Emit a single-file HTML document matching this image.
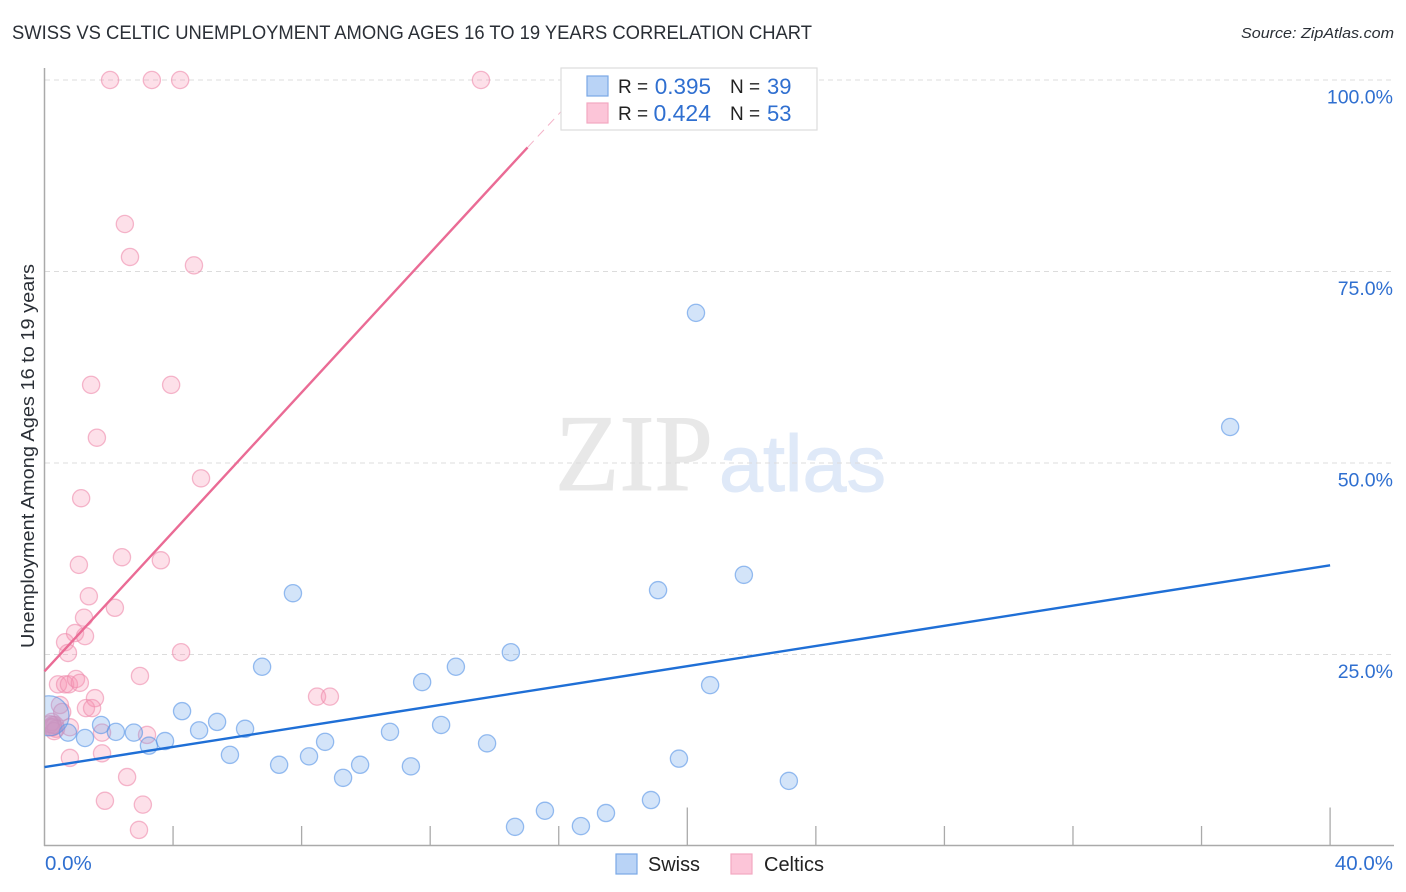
<!DOCTYPE html>
<html lang="en">
<head>
<meta charset="utf-8">
<title>Swiss vs Celtic Unemployment Correlation Chart</title>
<style>
html,body{margin:0;padding:0;background:#fff;}
svg{display:block;font-family:"Liberation Sans",sans-serif;}
</style>
</head>
<body>
<svg id="chart" xmlns="http://www.w3.org/2000/svg" width="1406" height="892" viewBox="0 0 1406 892">
  <defs>
    <clipPath id="plot-clip"><rect x="45" y="60" width="1349" height="785"></rect></clipPath>
  </defs>
  <rect width="1406" height="892" fill="#fff"></rect>
  <text x="12" y="39" font-size="19" fill="#2a2f36" textLength="800" lengthAdjust="spacingAndGlyphs">SWISS VS CELTIC UNEMPLOYMENT AMONG AGES 16 TO 19 YEARS CORRELATION CHART</text>
  <text x="1241" y="38" font-size="15" font-style="italic" fill="#2a2f36" textLength="153" lengthAdjust="spacingAndGlyphs">Source: ZipAtlas.com</text>
  <text x="555" y="490" font-family="'Liberation Serif',serif" font-size="109" fill="#e8e8e8" stroke="#e8e8e8" stroke-width="1" textLength="158" lengthAdjust="spacingAndGlyphs">ZIP</text>
  <text x="719" y="491" font-size="80" fill="#dfe9f8" stroke="#dfe9f8" stroke-width="1" textLength="167" lengthAdjust="spacingAndGlyphs">atlas</text>
  <g id="grid"></g>
  <g id="axes"></g>
  <g id="points" clip-path="url(#plot-clip)"></g>
  <g id="trends"></g>
  <g id="y-labels"></g>
  <text x="45" y="870" font-size="20.5" fill="#2f6fd0">0.0%</text>
  <text x="1393" y="870" font-size="20.5" fill="#2f6fd0" text-anchor="end">40.0%</text>
  <text transform="translate(34,648) rotate(-90)" font-size="18.5" fill="#2a2f36" textLength="384" lengthAdjust="spacingAndGlyphs">Unemployment Among Ages 16 to 19 years</text>

  <g>
    <rect x="561" y="68" width="256" height="62" fill="#fff" stroke="#dddddd" stroke-width="1.2"></rect>
    <rect x="587" y="76" width="21" height="20" fill="#b9d3f6" stroke="#7aa8e6" stroke-width="1.2"></rect>
    <rect x="587" y="103" width="21" height="20" fill="#fcc5d8" stroke="#f2a8c1" stroke-width="1.2"></rect>
    <text x="618" y="93" font-size="19" fill="#222">R =</text>
    <text x="711" y="94" font-size="22.5" fill="#2f6fd0" text-anchor="end">0.395</text>
    <text x="730" y="93" font-size="19" fill="#222">N =</text>
    <text x="767" y="94" font-size="22" fill="#2f6fd0">39</text>
    <text x="618" y="120" font-size="19" fill="#222">R =</text>
    <text x="711" y="121" font-size="23" fill="#2f6fd0" text-anchor="end">0.424</text>
    <text x="730" y="120" font-size="19" fill="#222">N =</text>
    <text x="767" y="121" font-size="22" fill="#2f6fd0">53</text>
  </g>

  <g>
    <rect x="616" y="854" width="21" height="20" fill="#b9d3f6" stroke="#7aa8e6" stroke-width="1.2"></rect>
    <text x="648" y="871" font-size="20" fill="#222" textLength="52" lengthAdjust="spacingAndGlyphs">Swiss</text>
    <rect x="731" y="854" width="21" height="20" fill="#fcc5d8" stroke="#f2a8c1" stroke-width="1.2"></rect>
    <text x="764" y="871" font-size="20" fill="#222" textLength="60" lengthAdjust="spacingAndGlyphs">Celtics</text>
  </g>
</svg>
<script>
const yTicks = [25, 50, 75, 100];
const yTickLabels = ["25.0%", "50.0%", "75.0%", "100.0%"];
const xTicks = [4, 8, 12, 16, 20, 24, 28, 32, 36, 40];
const xMajorTicks = [20, 40];

const swissX = [20.27,36.89,21.76,19.09,7.73,14.51,6.77,12.80,11.75,20.71,4.28,12.34,5.37,4.81,6.24,10.75,1.76,2.22,2.78,0.73,1.26,3.75,3.25,8.73,13.77,5.77,8.23,19.74,9.82,7.30,11.40,9.29,23.16,18.87,15.57,17.47,14.64,16.69];
const swissY = [69.6,54.7,35.4,33.4,33.0,25.3,23.4,23.4,21.4,21.0,17.6,15.8,16.2,15.1,15.3,14.9,15.8,14.9,14.8,14.8,14.1,13.7,13.1,13.6,13.4,11.9,11.7,11.4,10.6,10.6,10.4,8.9,8.5,6.0,4.6,4.3,2.5,2.6];
const swissBubbleX = [0.14];
const swissBubbleY = [17.0];

const celticsX = [2.04,3.34,4.22,13.58,2.50,2.66,4.65,1.45,3.94,1.63,4.87,1.14,2.41,3.62,1.07,1.38,2.19,1.23,0.95,1.26,0.64,0.73,4.25,2.97,0.42,0.64,0.76,0.98,1.10,1.57,8.48,8.88,0.48,1.29,1.48,0.79,1.79,3.19,1.79,0.79,2.57,1.88,3.06,2.94,0.23,0.33,0.26,0.17,0.36,0.30,0.20,0.26,0.55];
const celticsY = [100,100,100,100,81.2,76.9,75.8,60.2,60.2,53.3,48.0,45.4,37.7,37.3,36.7,32.6,31.1,29.8,27.8,27.4,26.6,25.2,25.3,22.2,21.1,21.1,21.1,21.8,21.3,19.3,19.5,19.5,18.4,18.0,18.0,15.5,14.8,14.5,12.1,11.5,9.0,5.9,5.4,2.1,16.2,15.8,15.5,15.9,15.3,15.0,15.5,15.8,17.5];

const swissTrendX = [0, 40];
const swissTrendY = [10.3, 36.65];
const celticsTrendX = [0, 15.03];
const celticsTrendY = [22.8, 91.2];
const celticsExtendX = [15.03, 16.5];
const celticsExtendY = [91.2, 97.8];

const NS = "http://www.w3.org/2000/svg";
function xs(v) { return 44.5 + v * 32.14; }
function ys(v) { return 846 - v * 7.66; }
function mk(tag, attrs, parent) {
  const el = document.createElementNS(NS, tag);
  for (const k in attrs) el.setAttribute(k, attrs[k]);
  parent.appendChild(el);
  return el;
}
const gridG = document.getElementById("grid");
const axesG = document.getElementById("axes");
const pointsG = document.getElementById("points");
const trendsG = document.getElementById("trends");
const yLabG = document.getElementById("y-labels");

yTicks.forEach(function (t, i) {
  const line = mk("line", {x1: 45, x2: 1394, y1: ys(t), y2: ys(t), stroke: "#dcdcdc", "stroke-width": 1, "stroke-dasharray": "5 4"}, gridG);
  
  
  const label = mk("text", {x: 1393, y: ys(t) + 23.5, "font-size": 19.5, fill: "#2f6fd0", "text-anchor": "end"}, yLabG);
  
  
  label.textContent = yTickLabels[i];
});

const yAxis = mk("line", {x1: 44.5, x2: 44.5, y1: 68, y2: 846, stroke: "#aaaaaa", "stroke-width": 1.5}, axesG);


const xAxis = mk("line", {x1: 44, x2: 1394, y1: 845.5, y2: 845.5, stroke: "#aaaaaa", "stroke-width": 1.5}, axesG);


xTicks.forEach(function (t) {
  const top = xMajorTicks.indexOf(t) >= 0 ? 807.5 : 826;
  const tick = mk("line", {x1: xs(t), x2: xs(t), y1: top, y2: 845.5, stroke: "#aaaaaa", "stroke-width": 1.3}, axesG);
  
  
});

function drawPoints(xv, yv, r, fill, stroke, fo, so, name) {
  xv.forEach(function (x, i) {
    const c = mk("circle", {cx: xs(x), cy: ys(yv[i]), r: r, fill: fill, "fill-opacity": fo, stroke: stroke, "stroke-opacity": so, "stroke-width": 1.3}, pointsG);
    
    
  });
}
drawPoints(celticsX, celticsY, 8.6, "#f78fb0", "#ee8aab", 0.28, 0.6, "celtics-point");
drawPoints(swissX, swissY, 8.6, "#6ea5ea", "#5b96e6", 0.3, 0.62, "swiss-point");
drawPoints(swissBubbleX, swissBubbleY, 20, "#6ea5ea", "#5b96e6", 0.3, 0.62, "swiss-large-point");

const sw = mk("line", {x1: xs(swissTrendX[0]), y1: ys(swissTrendY[0]), x2: xs(swissTrendX[1]), y2: ys(swissTrendY[1]), stroke: "#1f6fd6", "stroke-width": 2.4}, trendsG);


const ce = mk("line", {x1: xs(celticsTrendX[0]), y1: ys(celticsTrendY[0]), x2: xs(celticsTrendX[1]), y2: ys(celticsTrendY[1]), stroke: "#ea6b95", "stroke-width": 2.4}, trendsG);


const ex = mk("line", {x1: xs(celticsExtendX[0]), y1: ys(celticsExtendY[0]), x2: xs(celticsExtendX[1]), y2: ys(celticsExtendY[1]), stroke: "#f4b3c8", "stroke-width": 1, "stroke-dasharray": "9 6"}, trendsG);


</script>
</body>
</html>
